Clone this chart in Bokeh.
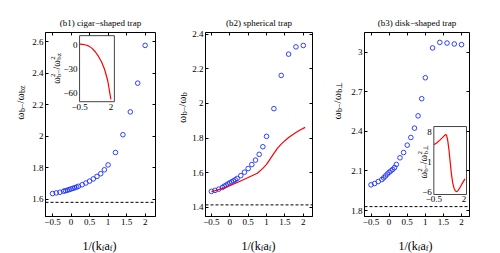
import math
from bokeh.plotting import figure
from bokeh.layouts import row, column
from bokeh.models import Range1d, LinearAxis, FixedTicker, Label, Span
from bokeh.embed import file_html
from bokeh.resources import INLINE
from bokeh.core.properties import value

# ---------------- data ----------------
x_pts = [-0.5, -0.4, -0.3, -0.2, -0.15, -0.1, -0.05, 0.0, 0.05, 0.1, 0.15, 0.2,
         0.3, 0.4, 0.5, 0.6, 0.7, 0.8, 0.9, 1.0, 1.2, 1.4, 1.6, 1.8, 2.0]

cigar_pts = [1.636, 1.640, 1.644, 1.651, 1.654, 1.657, 1.661, 1.665, 1.669, 1.673,
             1.677, 1.682, 1.692, 1.703, 1.715, 1.729, 1.745, 1.762, 1.787, 1.818,
             1.897, 2.010, 2.155, 2.338, 2.578]
cigar_level = 1.58

sph_pts = [1.492, 1.498, 1.505, 1.515, 1.522, 1.528, 1.535, 1.541, 1.547, 1.553,
           1.559, 1.567, 1.583, 1.603, 1.624, 1.647, 1.673, 1.706, 1.750, 1.810,
           1.970, 2.162, 2.285, 2.327, 2.335]
sph_line_x = [-0.5, -0.25, 0.0, 0.25, 0.5, 0.75, 0.9, 1.0, 1.1, 1.2, 1.3, 1.4,
              1.5, 1.6, 1.7, 1.8, 1.9, 2.05]
sph_line_y = [1.490, 1.505, 1.525, 1.548, 1.572, 1.597, 1.625, 1.648, 1.680, 1.712,
              1.742, 1.765, 1.785, 1.803, 1.818, 1.832, 1.845, 1.862]
sph_level = 1.414

disk_pts = [1.995, 2.005, 2.020, 2.035, 2.048, 2.062, 2.077, 2.090, 2.101, 2.112,
            2.126, 2.150, 2.200, 2.240, 2.296, 2.354, 2.425, 2.518, 2.648, 2.807,
            3.033, 3.075, 3.070, 3.063, 3.058]
disk_level = 1.83

inset1_x = [-0.5, -0.25, 0.0, 0.25, 0.5, 0.75, 1.0, 1.25, 1.5, 1.75, 2.0]
inset1_y = [0.5, 0.2, -0.6, -2.0, -4.8, -9.0, -14.5, -21.5, -31.0, -45.0, -68.0]

inset3_x = [-0.5, -0.25, 0.0, 0.25, 0.45, 0.55, 0.65, 0.75, 0.85, 0.95, 1.05,
            1.15, 1.25, 1.35, 1.45, 1.6, 1.8, 2.07]
inset3_y = [5.0, 5.5, 6.1, 6.8, 7.4, 7.3, 6.0, 3.8, 1.0, -1.8, -3.8,
            -5.0, -5.7, -6.0, -5.9, -5.3, -4.3, -3.0]

x_ticks = [-0.5, 0, 0.5, 1, 1.5, 2]
x_tick_labels = ["\u22120.5", "0", "0.5", "1", "1.5", "2"]
y1_ticks = [1.6, 1.8, 2.0, 2.2, 2.4, 2.6]
y1_labels = ["1.6", "1.8", "2", "2.2", "2.4", "2.6"]
y2_ticks = [1.4, 1.6, 1.8, 2.0, 2.2, 2.4]
y2_labels = ["1.4", "1.6", "1.8", "2", "2.2", "2.4"]
y3_ticks = [1.8, 2.1, 2.4, 2.7, 3.0]
y3_labels = ["1.8", "2.1", "2.4", "2.7", "3"]

in1_yticks = [0, -30, -60]
in1_ylabels = ["0", "\u221230", "\u221260"]
in3_yticks = [8, 1, -6]
in3_ylabels = ["8", "1", "\u22126"]
in_xticks = [-0.5, 2]
in_xlabels = ["\u22120.5", "2"]

titles = ["(b1) cigar\u2212shaped trap", "(b2) spherical trap", "(b3) disk\u2212shaped trap"]

FONT = "Liberation Serif"
W = {"\u03c9": 0.69, "b": 0.5, "\u2212": 0.564, "/": 0.278, "z": 0.444, "2": 0.5,
     "1": 0.5, "(": 0.333, "k": 0.5, "f": 0.333, "a": 0.444, ")": 0.333, "\u22a5": 0.66}


def tw(s, size):
    return sum(W.get(c, 0.5) for c in s) * size


def rich(p, groups, x0, y0, angle=0.0):
    """groups: list of lists of (text, size, shift); items of a group share a position."""
    rot = angle != 0.0
    total = sum(max(tw(t, s) for t, s, _ in g) for g in groups)
    adv = -total / 2.0
    for g in groups:
        for t, s, sh in g:
            if rot:
                x, y = x0 + sh, y0 + adv
            else:
                x, y = x0 + adv, y0 - sh
            p.add_layout(Label(x=x, y=y, x_units="screen", y_units="screen", text=t,
                               angle=angle, text_font=FONT, text_font_size=f"{s}px",
                               text_align="left", text_baseline="alphabetic",
                               text_color="black"))
        adv += max(tw(t, s) for t, s, _ in g)


def blank(width, height):
    f = figure(width=width, height=height, output_backend="svg", toolbar_location=None,
               x_range=Range1d(0, 1), y_range=Range1d(0, 1), min_border=0,
               x_axis_location=None, y_axis_location=None, outline_line_color=None,
               background_fill_color="white", border_fill_color="white")
    f.grid.visible = False
    return f


TOP, BOT, H = 32, 18, 234


def make_panel(title, xr, yr, yt, ylab, width, left, right):
    p = figure(width=width, height=H, output_backend="svg", toolbar_location=None,
               x_range=Range1d(*xr), y_range=Range1d(*yr),
               min_border_left=left, min_border_right=right,
               min_border_top=TOP, min_border_bottom=BOT,
               background_fill_color="white", border_fill_color="white",
               outline_line_color="black", outline_line_width=1)
    p.title.text = title
    p.title.text_font = FONT
    p.title.text_font_size = "9px"
    p.title.text_font_style = "normal"
    p.title.text_color = "black"
    p.title.align = "center"
    p.title.standoff = 9
    p.grid.visible = False
    for ax in (p.xaxis[0], p.yaxis[0]):
        ax.major_label_text_font = FONT
        ax.major_label_text_font_size = "9px"
        ax.major_label_text_color = "black"
        ax.major_tick_in = 3
        ax.major_tick_out = 0
        ax.minor_tick_line_color = None
        ax.axis_line_color = "black"
        ax.major_tick_line_color = "black"
        ax.major_label_standoff = 2
    p.xaxis[0].ticker = FixedTicker(ticks=x_ticks)
    p.xaxis[0].major_label_overrides = dict(zip(x_ticks, x_tick_labels))
    p.yaxis[0].ticker = FixedTicker(ticks=yt)
    p.yaxis[0].major_label_overrides = dict(zip(yt, ylab))
    for loc, tk in (("right", yt), ("above", x_ticks)):
        ax = LinearAxis(ticker=FixedTicker(ticks=tk), major_tick_in=3, major_tick_out=0,
                        minor_tick_line_color=None, axis_line_color=None,
                        major_tick_line_color="black",
                        major_label_text_color=None, major_label_text_font_size="1px",
                        major_label_standoff=0)
        p.add_layout(ax, loc)
    return p


def inset(p, xr, yr, tx, ty, xs, ys, yt, ylab, label_groups, lab_pos):
    sub = p.subplot(x_source=Range1d(*xr), y_source=Range1d(*yr),
                    x_target=Range1d(*tx), y_target=Range1d(*ty))
    sub.quad(left=[xr[0]], right=[xr[1]], bottom=[yr[0]], top=[yr[1]],
             fill_color="white", line_color="#444444", line_width=1)
    sub.line(xs, ys, line_color="red", line_width=1.2)
    sub.text(x=[xr[0]] * len(yt), y=yt, text=ylab, text_align="right",
             text_baseline="middle", x_offset=-2, text_font=value(FONT),
             text_font_size="9px", text_color="black")
    sub.text(x=in_xticks, y=[yr[0]] * len(in_xticks), text=in_xlabels, text_align="center",
             text_baseline="top", y_offset=2, text_font=value(FONT),
             text_font_size="9px", text_color="black")
    rich(p, label_groups, lab_pos[0], lab_pos[1], angle=math.pi / 2)


BLUE = "#1a2cff"
MK = dict(marker="circle", size=4.6, fill_color=None, line_color=BLUE, line_width=0.9)
DASH = dict(dimension="width", line_dash="3 2", line_color="black", line_width=1)

# ---- panel 1 ----
p1 = make_panel(titles[0], (-0.69, 2.28), (1.49, 2.66), y1_ticks, y1_labels, 146, 19, 17)
p1.scatter(x_pts, cigar_pts, **MK)
p1.add_layout(Span(location=cigar_level, **DASH))
il1 = [[("\u03c9", 10, 0)], [("2", 7, -4), ("b\u2212", 7, 2.5)], [("/\u03c9", 10, 0)],
       [("2", 7, -4), ("bz", 7, 2.5)]]
inset(p1, (-0.5, 2.28), (-71, 11), (0.23, 1.17), (2.22, 2.64),
      inset1_x, inset1_y, in1_yticks, in1_ylabels, il1, (11, 148))

# ---- panel 2 ----
p2 = make_panel(titles[1], (-0.66, 2.25), (1.347, 2.41), y2_ticks, y2_labels, 142, 17, 18)
p2.scatter(x_pts, sph_pts, **MK)
p2.line(sph_line_x, sph_line_y, line_color="red", line_width=1.2)
p2.add_layout(Span(location=sph_level, **DASH))

# ---- panel 3 ----
p3 = make_panel(titles[2], (-0.68, 2.22), (1.755, 3.15), y3_ticks, y3_labels, 152, 15, 31)
p3.scatter(x_pts, disk_pts, **MK)
p3.add_layout(Span(location=disk_level, **DASH))
il3 = [[("\u03c9", 10, 0)], [("2", 7, -4), ("b\u2212", 7, 2.5)], [("/\u03c9", 10, 0)],
       [("2", 7, -4), ("b\u22a5", 7, 2.5)]]
inset(p3, (-0.5, 2.2), (-6.66, 9.3), (1.235, 2.138), (1.922, 2.437),
      inset3_x, inset3_y, in3_yticks, in3_ylabels, il3, (59, 54))

# ---- axis labels (rich text in label strips) ----
yl1 = blank(26, H)
rich(yl1, [[("\u03c9", 11, 0)], [("b\u2212", 8, 3)], [("/\u03c9", 11, 0)], [("bz", 8, 3)]],
     19, H - 120, angle=math.pi / 2)
yl2 = blank(16, H)
rich(yl2, [[("\u03c9", 11, 0)], [("b\u2212", 8, 3)], [("/\u03c9", 11, 0)], [("b", 8, 3)]],
     9, H - 125, angle=math.pi / 2)
yl3 = blank(18, H)
rich(yl3, [[("\u03c9", 11, 0)], [("b\u2212", 8, 3)], [("/\u03c9", 11, 0)], [("b\u22a5", 8, 3)]],
     6, H - 119, angle=math.pi / 2)

xl = blank(500, 253 - H)
xg = [[("1/(k", 12, 0)], [("f", 8, 3)], [("a", 12, 0)], [("f", 8, 3)], [(")", 12, 0)]]
for cx in (99, 258, 415):
    rich(xl, xg, cx, 8)

layout = column(row(yl1, p1, yl2, p2, yl3, p3), xl)
open("out.html", "w").write(file_html(layout, INLINE))
